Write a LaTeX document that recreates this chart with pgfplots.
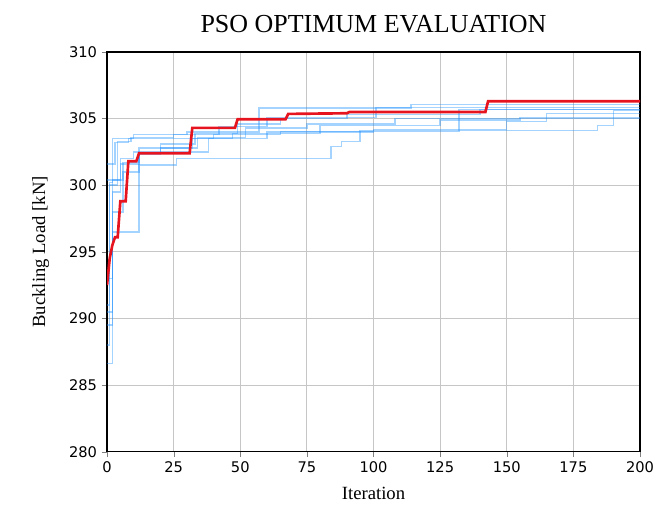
\documentclass[border=0pt]{standalone}
\usepackage{fontspec}
\setmainfont{Liberation Serif}
\newfontfamily\tickfont{DejaVu Sans}
\usepackage{pgfplots}
\pgfplotsset{compat=1.18}
\definecolor{runblue}{RGB}{30,144,255}
\definecolor{bestred}{RGB}{230,20,30}
\begin{document}
\begin{tikzpicture}
\begin{axis}[
  scale only axis,
  width=400pt, height=300pt,
  xmin=0, xmax=200, ymin=280, ymax=310,
  xtick={0,25,...,200}, ytick={280,285,...,310},
  xtick pos=lower, ytick pos=left, tick align=outside,
  major tick length=4pt,
  grid=major, grid style={gray!45, line width=0.6pt},
  axis line style={line width=0.9pt},
  /pgf/number format/assume math mode=true,
  tick label style={font=\tickfont\fontsize{11}{12}\selectfont},
  title={PSO OPTIMUM EVALUATION},
  title style={font=\fontsize{19.5}{22}\selectfont, yshift=5pt},
  xlabel={Iteration}, ylabel={Buckling Load [kN]},
  label style={font=\fontsize{14}{16}\selectfont},
  xlabel style={yshift=-4pt},
  ylabel style={yshift=8pt},
  every axis plot/.append style={const plot},
]
\addplot[runblue, opacity=0.4, line width=1.1pt] coordinates {(0,288.0) (1,300.2) (2,303.5) (10,303.8) (30,304.0) (57,305.8) (114,306.05) (200,306.05)};
\addplot[runblue, opacity=0.4, line width=1.1pt] coordinates {(0,286.6) (2,300.4) (5,301.6) (12,302.3) (20,303.1) (33,303.9) (49,304.6) (65,305.0) (90,305.3) (140,305.7) (200,305.7)};
\addplot[runblue, opacity=0.4, line width=1.1pt] coordinates {(0,301.6) (3,303.2) (8,303.5) (40,303.8) (65,304.05) (132,305.7) (200,305.7)};
\addplot[runblue, opacity=0.4, line width=1.1pt] coordinates {(0,289.5) (2,296.5) (12,301.5) (26,302.0) (84,302.9) (88,303.3) (95,304.1) (184,304.5) (190,305.6) (200,305.6)};
\addplot[runblue, opacity=0.4, line width=1.1pt] coordinates {(0,300.4) (6,301.0) (12,302.8) (34,303.6) (52,304.3) (75,304.6) (108,305.0) (200,305.0)};
\addplot[runblue, opacity=0.4, line width=1.1pt] coordinates {(0,293.0) (2,299.5) (5,302.0) (10,302.5) (38,303.5) (47,303.9) (80,304.5) (125,304.9) (155,305.1) (200,305.1)};
\addplot[runblue, opacity=0.4, line width=1.1pt] coordinates {(0,291.0) (1,300.0) (4,303.3) (9,303.6) (25,303.8) (42,304.4) (60,305.1) (101,305.85) (200,305.85)};
\addplot[runblue, opacity=0.4, line width=1.1pt] coordinates {(0,290.5) (2,298.0) (6,301.7) (12,302.4) (20,302.8) (32,303.5) (60,304.0) (100,304.2) (150,304.8) (165,305.4) (200,305.4)};
\addplot[bestred, line width=2pt, sharp plot] coordinates {(0,292.5) (1,294.5) (2,295.5) (3,296.1) (4,296.1) (5,298.8) (7,298.8) (8,301.8) (11,301.8) (12,302.4) (31,302.4) (32,304.3) (48,304.3) (49,304.95) (67,304.95) (68,305.35) (90,305.4) (91,305.5) (142,305.5) (143,306.3) (200,306.3)};
\coordinate (bl) at (rel axis cs:-0.2008,-0.1375);
\coordinate (tr) at (rel axis cs:1.0319,1.13);
\end{axis}
\pgfresetboundingbox
\path (bl) rectangle (tr);
\end{tikzpicture}
\end{document}
